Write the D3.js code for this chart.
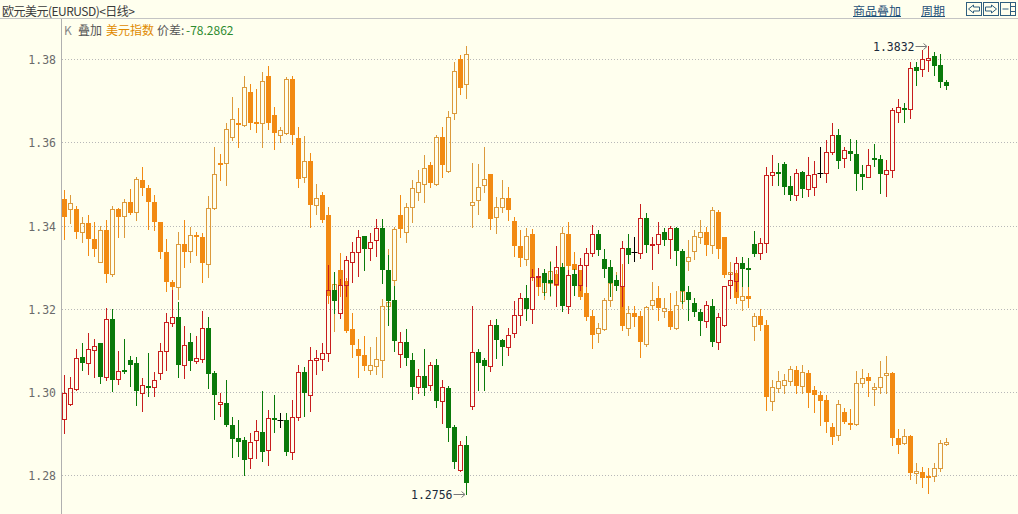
<!DOCTYPE html>
<html>
<head>
<meta charset="utf-8">
<script src="https://cdn.jsdelivr.net/npm/d3@7"></script>
<style>
html,body{margin:0;padding:0;background:#FFFFEE;overflow:hidden;}
svg{display:block;}
</style>
</head>
<body>
<svg id="chart" width="1018" height="514"></svg>
<script>
// ---------- DATA ----------
const title = "欧元美元(EURUSD)<日线>";
const overlayName = "美元指数";
const spreadText = "-78.2862";
const yTicks = [1.28, 1.30, 1.32, 1.34, 1.36, 1.38];

// EUR/USD daily candles
const eurOpen = [
1.2936,1.2972,1.3008,1.3085,1.3070,1.3101,1.3117,1.3036,1.3176,1.3032,
1.3052,1.3078,1.3069,1.2998,1.3014,1.3013,1.3046,1.3098,1.3166,1.3181,
1.3065,1.3121,1.3074,1.3080,1.3154,1.3045,1.2972,1.2974,1.2920,1.2889,
1.2884,1.2842,1.2884,1.2905,1.2860,1.2937,1.2934,1.2934,1.2856,1.2940,
1.3049,1.2993,1.3076,1.3080,1.3094,1.3246,1.3190,1.3258,1.3313,1.3337,
1.3376,1.3346,1.3366,1.3394,1.3294,1.3222,1.3092,1.3121,1.3078,1.3013,
1.3038,1.3016,1.3066,1.2978,1.3010,1.2916,1.2813,1.2872,1.2966,1.3097,
1.3078,1.3062,1.3162,1.3126,1.3109,1.3141,1.3185,1.3225,1.3200,1.3276,
1.3286,1.3270,1.3261,1.3300,1.3206,1.3284,1.3257,1.3305,1.3334,1.3380,
1.3320,1.3301,1.3269,1.3254,1.3346,1.3336,1.3334,1.3418,1.3354,1.3357,
1.3386,1.3368,1.3394,1.3340,1.3241,1.3214,1.3193,1.3170,1.3208,1.3120,
1.3161,1.3257,1.3266,1.3310,1.3298,1.3357,1.3334,1.3358,1.3521,1.3529,
1.3549,1.3496,1.3473,1.3528,1.3488,1.3493,1.3526,1.3526,1.3577,1.3617,
1.3562,1.3580,1.3573,1.3525,1.3518,1.3562,1.3561,1.3524,1.3534,1.3673,
1.3682,1.3680,1.3781,1.3776,1.3799,1.3808,1.3786,1.3745];
const eurHigh = [
1.3042,1.3037,1.3104,1.3117,1.3141,1.3128,1.3118,1.3202,1.3200,1.3098,
1.3128,1.3086,1.3085,1.3034,1.3094,1.3049,1.3117,1.3189,1.3245,1.3217,
1.3160,1.3141,1.3134,1.3194,1.3180,1.3050,1.2998,1.3030,1.2940,1.2932,
1.2893,1.2902,1.2934,1.3002,1.2956,1.2993,1.2949,1.2950,1.2980,1.3064,
1.3061,1.3109,1.3102,1.3117,1.3306,1.3289,1.3272,1.3326,1.3362,1.3389,
1.3376,1.3382,1.3416,1.3416,1.3330,1.3256,1.3144,1.3152,1.3093,1.3056,
1.3104,1.3072,1.3080,1.3030,1.3014,1.2920,1.2882,1.2894,1.3208,1.3104,
1.3082,1.3174,1.3176,1.3128,1.3154,1.3218,1.3238,1.3258,1.3296,1.3298,
1.3296,1.3312,1.3352,1.3310,1.3294,1.3296,1.3322,1.3346,1.3402,1.3390,
1.3344,1.3318,1.3282,1.3364,1.3381,1.3374,1.3453,1.3430,1.3374,1.3409,
1.3394,1.3400,1.3398,1.3344,1.3254,1.3226,1.3200,1.3218,1.3224,1.3189,
1.3256,1.3286,1.3325,1.3325,1.3322,1.3388,1.3370,1.3542,1.3570,1.3550,
1.3552,1.3520,1.3536,1.3532,1.3566,1.3556,1.3589,1.3606,1.3646,1.3632,
1.3590,1.3608,1.3606,1.3546,1.3584,1.3596,1.3570,1.3558,1.3682,1.3704,
1.3694,1.3793,1.3794,1.3822,1.3832,1.3818,1.3813,1.3750];
const eurLow = [
1.2902,1.2969,1.3005,1.3053,1.3044,1.3037,1.3022,1.3029,1.3002,1.3020,
1.3046,1.3014,1.2970,1.2954,1.2990,1.2990,1.3032,1.3054,1.3158,1.3037,
1.3034,1.3053,1.3069,1.3072,1.3010,1.2936,1.2942,1.2918,1.2845,1.2846,
1.2800,1.2818,1.2842,1.2834,1.2824,1.2904,1.2917,1.2848,1.2840,1.2933,
1.2942,1.2954,1.3044,1.3053,1.3074,1.3190,1.3178,1.3232,1.3265,1.3278,
1.3293,1.3317,1.3326,1.3262,1.3162,1.3098,1.3061,1.3066,1.2984,1.2999,
1.2992,1.3006,1.2964,1.2925,1.2882,1.2818,1.2810,1.2756,1.2960,1.3006,
1.3005,1.3050,1.3082,1.3064,1.3090,1.3133,1.3162,1.3173,1.3166,1.3254,
1.3234,1.3234,1.3206,1.3194,1.3190,1.3234,1.3245,1.3254,1.3326,1.3330,
1.3277,1.3232,1.3245,1.3206,1.3310,1.3314,1.3322,1.3337,1.3297,1.3334,
1.3354,1.3322,1.3305,1.3214,1.3173,1.3182,1.3137,1.3157,1.3110,1.3104,
1.3158,1.3226,1.3242,1.3254,1.3254,1.3328,1.3320,1.3336,1.3498,1.3497,
1.3477,1.3462,1.3461,1.3470,1.3472,1.3474,1.3517,1.3506,1.3573,1.3538,
1.3541,1.3557,1.3485,1.3488,1.3516,1.3544,1.3478,1.3472,1.3516,1.3650,
1.3650,1.3660,1.3738,1.3761,1.3773,1.3762,1.3734,1.3729];
const eurClose = [
1.2997,1.3010,1.3082,1.3070,1.3104,1.3112,1.3036,1.3176,1.3030,1.3050,
1.3048,1.3064,1.3002,1.3017,1.3011,1.3028,1.3098,1.3169,1.3181,1.3065,
1.3114,1.3074,1.3081,1.3154,1.3044,1.2993,1.2977,1.2921,1.2888,1.2881,
1.2837,1.2881,1.2906,1.2857,1.2937,1.2932,1.2934,1.2856,1.2941,1.3049,
1.2998,1.3077,1.3081,1.3093,1.3246,1.3218,1.3257,1.3317,1.3337,1.3374,
1.3344,1.3362,1.3394,1.3294,1.3218,1.3122,1.3121,1.3082,1.3013,1.3038,
1.3010,1.3066,1.2978,1.3013,1.2914,1.2832,1.2872,1.2781,1.3097,1.3069,
1.3062,1.3162,1.3125,1.3109,1.3138,1.3186,1.3225,1.3200,1.3277,1.3280,
1.3262,1.3262,1.3300,1.3208,1.3282,1.3256,1.3305,1.3334,1.3380,1.3341,
1.3297,1.3262,1.3256,1.3346,1.3330,1.3336,1.3418,1.3353,1.3357,1.3380,
1.3366,1.3394,1.3338,1.3242,1.3221,1.3192,1.3170,1.3209,1.3120,1.3181,
1.3254,1.3270,1.3310,1.3297,1.3294,1.3333,1.3358,1.3522,1.3529,1.3525,
1.3493,1.3473,1.3526,1.3488,1.3522,1.3524,1.3526,1.3577,1.3617,1.3556,
1.3581,1.3572,1.3524,1.3518,1.3545,1.3560,1.3524,1.3534,1.3677,1.3685,
1.3680,1.3778,1.3773,1.3801,1.3802,1.3785,1.3745,1.3737];

// US Dollar Index overlay (already mapped onto the EUR/USD price axis)
const usdxOpen = [
1.3464,1.3440,1.3440,1.3384,1.3406,1.3368,1.3313,1.3390,1.3284,1.3440,
1.3424,1.3457,1.3432,1.3510,1.3490,1.3457,1.3408,1.3337,1.3265,1.3253,
1.3357,1.3338,1.3378,1.3373,1.3309,1.3442,1.3550,1.3550,1.3613,1.3646,
1.3642,1.3722,1.3650,1.3646,1.3760,1.3666,1.3618,1.3624,1.3752,1.3610,
1.3516,1.3556,1.3449,1.3474,1.3426,1.3246,1.3294,1.3266,1.3152,1.3104,
1.3088,1.3053,1.3062,1.3077,1.3206,1.3269,1.3426,1.3384,1.3446,1.3482,
1.3500,1.3545,1.3501,1.3613,1.3532,1.3670,1.3800,1.3740,1.3450,1.3461,
1.3497,1.3525,1.3421,1.3445,1.3466,1.3412,1.3352,1.3320,1.3381,1.3278,
1.3240,1.3262,1.3284,1.3300,1.3381,1.3309,1.3293,1.3238,1.3184,1.3142,
1.3152,1.3222,1.3262,1.3253,1.3154,1.3190,1.3184,1.3116,1.3209,1.3225,
1.3194,1.3196,1.3154,1.3218,1.3314,1.3338,1.3374,1.3385,1.3354,1.3434,
1.3372,1.3285,1.3286,1.3221,1.3230,1.3160,1.3182,1.3162,1.2978,1.3010,
1.3018,1.3026,1.3054,1.3014,1.3045,1.3005,1.2994,1.2980,1.2917,1.2897,
1.2953,1.2926,1.2924,1.3022,1.3037,1.3008,1.3013,1.3042,1.3046,1.2890,
1.2878,1.2894,1.2805,1.2809,1.2798,1.2798,1.2818,1.2876];
const usdxHigh = [
1.3485,1.3474,1.3448,1.3422,1.3426,1.3408,1.3400,1.3414,1.3448,1.3442,
1.3464,1.3488,1.3516,1.3542,1.3498,1.3474,1.3408,1.3368,1.3270,1.3384,
1.3414,1.3398,1.3384,1.3382,1.3472,1.3589,1.3573,1.3646,1.3709,1.3682,
1.3760,1.3741,1.3728,1.3769,1.3784,1.3685,1.3637,1.3757,1.3760,1.3637,
1.3616,1.3574,1.3501,1.3482,1.3446,1.3286,1.3334,1.3274,1.3189,1.3128,
1.3134,1.3109,1.3132,1.3224,1.3344,1.3398,1.3474,1.3454,1.3510,1.3534,
1.3570,1.3554,1.3618,1.3637,1.3676,1.3794,1.3810,1.3832,1.3550,1.3549,
1.3589,1.3525,1.3470,1.3510,1.3493,1.3421,1.3390,1.3394,1.3392,1.3296,
1.3286,1.3314,1.3294,1.3397,1.3410,1.3336,1.3294,1.3254,1.3198,1.3165,
1.3225,1.3274,1.3288,1.3309,1.3208,1.3206,1.3194,1.3208,1.3265,1.3254,
1.3226,1.3238,1.3242,1.3250,1.3366,1.3389,1.3414,1.3397,1.3444,1.3437,
1.3374,1.3312,1.3294,1.3258,1.3254,1.3189,1.3200,1.3174,1.3030,1.3050,
1.3044,1.3062,1.3062,1.3066,1.3054,1.3014,1.3002,1.2992,1.2926,1.2982,
1.2962,1.2959,1.3050,1.3056,1.3046,1.3022,1.3074,1.3086,1.3049,1.2912,
1.2912,1.2896,1.2830,1.2820,1.2818,1.2830,1.2884,1.2889];
const usdxLow = [
1.3368,1.3406,1.3370,1.3362,1.3330,1.3326,1.3312,1.3264,1.3278,1.3374,
1.3374,1.3429,1.3413,1.3474,1.3392,1.3389,1.3322,1.3242,1.3248,1.3224,
1.3300,1.3312,1.3330,1.3264,1.3277,1.3440,1.3509,1.3498,1.3605,1.3589,
1.3640,1.3632,1.3626,1.3590,1.3632,1.3584,1.3600,1.3621,1.3596,1.3494,
1.3506,1.3397,1.3429,1.3408,1.3214,1.3146,1.3230,1.3144,1.3085,1.3036,
1.3053,1.3044,1.3044,1.3037,1.3200,1.3258,1.3374,1.3362,1.3410,1.3461,
1.3458,1.3494,1.3498,1.3518,1.3529,1.3657,1.3716,1.3706,1.3397,1.3429,
1.3482,1.3392,1.3382,1.3432,1.3414,1.3326,1.3302,1.3306,1.3269,1.3234,
1.3224,1.3232,1.3250,1.3296,1.3294,1.3282,1.3224,1.3173,1.3106,1.3120,
1.3150,1.3206,1.3254,1.3149,1.3138,1.3158,1.3085,1.3110,1.3200,1.3174,
1.3180,1.3152,1.3152,1.3202,1.3294,1.3320,1.3358,1.3330,1.3334,1.3322,
1.3277,1.3258,1.3213,1.3197,1.3204,1.3125,1.3150,1.2956,1.2958,1.3001,
1.2998,1.3016,1.2998,1.2999,1.2965,1.2952,1.2920,1.2904,1.2876,1.2885,
1.2926,1.2912,1.2922,1.3012,1.2990,1.2968,1.2999,1.2998,1.2872,1.2853,
1.2876,1.2792,1.2782,1.2772,1.2757,1.2786,1.2810,1.2874];
const usdxClose = [
1.3422,1.3454,1.3386,1.3406,1.3368,1.3344,1.3389,1.3284,1.3440,1.3422,
1.3456,1.3430,1.3512,1.3490,1.3458,1.3408,1.3337,1.3265,1.3252,1.3357,
1.3337,1.3377,1.3373,1.3310,1.3442,1.3524,1.3546,1.3632,1.3656,1.3642,
1.3733,1.3648,1.3648,1.3749,1.3648,1.3622,1.3629,1.3752,1.3618,1.3512,
1.3556,1.3449,1.3466,1.3414,1.3230,1.3260,1.3258,1.3146,1.3114,1.3086,
1.3062,1.3064,1.3080,1.3208,1.3216,1.3392,1.3392,1.3444,1.3490,1.3504,
1.3538,1.3502,1.3613,1.3545,1.3662,1.3773,1.3730,1.3812,1.3457,1.3493,
1.3512,1.3417,1.3445,1.3466,1.3437,1.3350,1.3322,1.3376,1.3277,1.3253,
1.3264,1.3292,1.3254,1.3382,1.3302,1.3294,1.3228,1.3180,1.3137,1.3154,
1.3222,1.3262,1.3269,1.3158,1.3190,1.3180,1.3120,1.3204,1.3222,1.3202,
1.3201,1.3157,1.3209,1.3242,1.3325,1.3376,1.3385,1.3354,1.3438,1.3344,
1.3282,1.3289,1.3226,1.3232,1.3224,1.3184,1.3162,1.2989,1.3013,1.3027,
1.3030,1.3056,1.3014,1.3048,1.2997,1.2992,1.2978,1.2928,1.2893,1.2972,
1.2929,1.2922,1.3022,1.3034,1.3026,1.3013,1.3037,1.3046,1.2890,1.2873,
1.2894,1.2806,1.2810,1.2794,1.2794,1.2818,1.2877,1.2881];

// ---------- CHART ----------
const W = 1018, H = 514;
const svg = d3.select("#chart");
const bg = "#FFFFEE";
svg.append("rect").attr("width", W).attr("height", H).attr("fill", bg);

const n = eurOpen.length;
const idx = d3.range(n);
const x = d3.scaleBand().domain(idx).range([61.3, 61.3 + 6 * n]).padding(0);
const y = d3.scaleLinear().domain([1.28, 1.38]).range([475.3, 59.3]);

const cjk = "'Noto Sans CJK SC','Noto Sans',sans-serif";
const mono = "'DejaVu Sans Mono','Liberation Mono',monospace";

// header
svg.append("line").attr("x1", 0).attr("x2", W).attr("y1", 18.5).attr("y2", 18.5)
  .attr("stroke", "#c4c4c4");
svg.append("text").attr("x", 2).attr("y", 10).attr("dominant-baseline", "central")
  .attr("font-family", cjk).attr("font-size", 12).attr("fill", "#3a3a3a")
  .attr("textLength", 133).attr("lengthAdjust", "spacing").text(title);

const linkColor = "#1f5078";
[["商品叠加", 853], ["周期", 921]].forEach(([t, lx]) => {
  const tx = svg.append("text").attr("x", lx).attr("y", 10).attr("dominant-baseline", "central")
    .attr("font-family", cjk).attr("font-size", 12).attr("fill", linkColor).text(t);
  const w = tx.node().getComputedTextLength();
  svg.append("line").attr("x1", lx).attr("x2", lx + w).attr("y1", 16.5).attr("y2", 16.5)
    .attr("stroke", linkColor);
});

// toolbar icons
const iconColor = "#2f5f7f";
[966.5, 983.5, 1000.5].forEach((bx, k) => {
  const by = 2.5;
  svg.append("rect").attr("x", bx).attr("y", by).attr("width", 15).attr("height", 13)
    .attr("fill", "none").attr("stroke", iconColor);
  let p;
  if (k === 0) {
    p = `M${bx+2},${by+6.5} L${bx+7},${by+2.5} L${bx+7},${by+4.5} L${bx+13},${by+4.5} L${bx+13},${by+8.5} L${bx+7},${by+8.5} L${bx+7},${by+10.5} Z`;
  } else if (k === 1) {
    p = `M${bx+13},${by+6.5} L${bx+8},${by+2.5} L${bx+8},${by+4.5} L${bx+2},${by+4.5} L${bx+2},${by+8.5} L${bx+8},${by+8.5} L${bx+8},${by+10.5} Z`;
  } else {
    p = `M${bx+10},${by} L${bx+10},${by+13} M${bx+10},${by+4} L${bx+15},${by+4} M${bx+10},${by+9} L${bx+15},${by+9} M${bx+2},${by+6.5} L${bx+8},${by+6.5}`;
  }
  svg.append("path").attr("d", p).attr("fill", "none").attr("stroke", iconColor);
});

// left axis line
svg.append("line").attr("x1", 61.5).attr("x2", 61.5).attr("y1", 19).attr("y2", H)
  .attr("stroke", "#b0b0b0");

// grid + y labels
const grid = svg.append("g");
yTicks.forEach(t => {
  const yy = Math.round(y(t)) + 0.5;
  grid.append("line").attr("x1", 62).attr("x2", W).attr("y1", yy).attr("y2", yy)
    .attr("stroke", "#b8b8b8").attr("stroke-dasharray", "1,2");
  grid.append("text").attr("x", 56).attr("y", yy).attr("text-anchor", "end")
    .attr("dominant-baseline", "central").attr("font-family", mono).attr("font-size", 11.5)
    .attr("fill", "#6a6a6a").text(d3.format(".2f")(t));
});

// legend line
const legendItems = [
  ["K", 64, "#888888"],
  ["叠加", 78, "#555555"],
  [overlayName, 106, "#e08a00"],
  ["价差:", 157, "#555555"],
  [spreadText, 186, "#2e8b2e"]
];
legendItems.forEach(([t, lx, col]) => {
  svg.append("text").attr("x", lx).attr("y", 29).attr("dominant-baseline", "central")
    .attr("font-family", cjk).attr("font-size", 12).attr("fill", col).text(t);
});

// candles
function drawCandles(O, Hi, Lo, C, upColor, downColor, eqColor) {
  const g = svg.append("g");
  idx.forEach(i => {
    const cx = Math.floor(x(i) + x.bandwidth() / 2) + 0.5;
    const o = O[i], c = C[i];
    const yT = Math.round(y(Math.max(o, c)));
    const yB = Math.round(y(Math.min(o, c)));
    const yH = Math.round(y(Hi[i]));
    const yL = Math.round(y(Lo[i]));
    const left = cx - 2.5;
    if (c > o) {
      g.append("line").attr("x1", cx).attr("x2", cx).attr("y1", yH).attr("y2", yT)
        .attr("stroke", upColor);
      g.append("line").attr("x1", cx).attr("x2", cx).attr("y1", yB).attr("y2", yL + 1)
        .attr("stroke", upColor);
      g.append("rect").attr("x", left + 0.5).attr("y", yT + 0.5)
        .attr("width", 4).attr("height", Math.max(yB - yT, 1))
        .attr("fill", "none").attr("stroke", upColor);
    } else if (c < o) {
      g.append("line").attr("x1", cx).attr("x2", cx).attr("y1", yH).attr("y2", yL + 1)
        .attr("stroke", downColor);
      g.append("rect").attr("x", left).attr("y", yT)
        .attr("width", 5).attr("height", Math.max(yB - yT, 2))
        .attr("fill", downColor);
    } else {
      g.append("line").attr("x1", cx).attr("x2", cx).attr("y1", yH).attr("y2", yL + 1)
        .attr("stroke", eqColor);
      g.append("line").attr("x1", left - 0.5).attr("x2", left + 5.5).attr("y1", yT + 0.5).attr("y2", yT + 0.5)
        .attr("stroke", eqColor);
    }
  });
}
drawCandles(usdxOpen, usdxHigh, usdxLow, usdxClose, "#dc9a3c", "#f28a12", "#dc9a3c");
drawCandles(eurOpen, eurHigh, eurLow, eurClose, "#c81e1e", "#0a7a0a", "#000000");

// max / min annotations
function annotate(i, value) {
  const cx = Math.floor(x(i) + x.bandwidth() / 2) + 0.5;
  const yy = Math.round(y(value)) + 0.5;
  svg.append("text").attr("x", cx - 14).attr("y", yy).attr("text-anchor", "end")
    .attr("dominant-baseline", "central").attr("font-family", mono).attr("font-size", 11.5)
    .attr("fill", "#1c2a3a").text(d3.format(".4f")(value));
  svg.append("line").attr("x1", cx - 13).attr("x2", cx - 2).attr("y1", yy).attr("y2", yy)
    .attr("stroke", "#7a7a7a");
  svg.append("path").attr("d", `M${cx-5},${yy-3} L${cx-1.5},${yy} L${cx-5},${yy+3}`)
    .attr("fill", "none").attr("stroke", "#7a7a7a");
}
const iMax = d3.maxIndex(eurHigh), iMin = d3.minIndex(eurLow);
annotate(iMax, eurHigh[iMax]);
annotate(iMin, eurLow[iMin]);
</script>
</body>
</html>
